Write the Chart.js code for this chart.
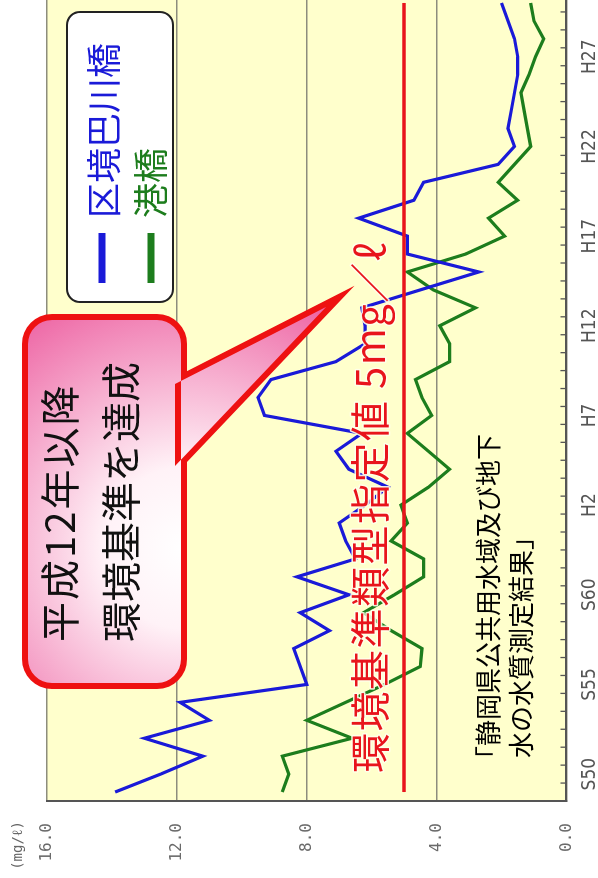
<!DOCTYPE html>
<html><head><meta charset="utf-8">
<script src="https://cdn.jsdelivr.net/npm/chart.js@4.4.1/dist/chart.umd.min.js"></script>
<style>
html,body{margin:0;padding:0;background:#fff;overflow:hidden;width:598px;height:878px;}
#wrap{position:absolute;left:0;top:0;width:900px;height:598px;transform-origin:0 0;transform:translate(0px,878px) rotate(-90deg);}
canvas{display:block;}
</style></head><body>
<div id="wrap"><canvas id="c" width="900" height="598"></canvas></div>
<script>
// Fiscal years (Showa / Heisei)
const years = ['S49','S50','S51','S52','S53','S54','S55','S56','S57','S58','S59','S60','S61','S62','S63',
  'H1','H2','H3','H4','H5','H6','H7','H8','H9','H10','H11','H12','H13','H14','H15','H16','H17','H18','H19','H20',
  'H21','H22','H23','H24','H25','H26','H27','H28','H29','H30'];
const tickLabels = ['S50','S55','S60','H2','H7','H12','H17','H22','H27'];
// BOD (mg/l)
const tomoegawa = [13.9,12.5,11.2,13.0,11.0,11.9,8.0,8.2,8.4,7.3,8.2,6.7,8.3,6.5,6.8,
  7.0,6.2,5.5,6.7,7.1,6.3,9.3,9.5,9.1,7.1,6.2,6.2,6.3,4.5,2.7,4.9,4.9,6.4,4.7,4.4,
  2.1,1.6,1.8,1.7,1.6,1.5,1.5,1.6,1.8,2.0];
const minatobashi = [8.75,8.55,8.75,6.6,8.0,6.8,5.6,4.5,4.45,5.4,6.25,5.3,4.4,4.4,5.4,
  4.9,5.1,4.25,3.6,4.25,4.9,4.15,4.45,4.65,3.6,3.6,3.9,2.8,4.1,4.9,3.1,1.9,2.4,1.5,2.1,
  1.6,1.1,1.2,1.3,1.4,1.15,0.95,0.7,1.0,1.1];
const standardValue = 5;
const seriesNames = ['区境巴川橋','港橋'];
const yMin = 0, yMax = 16, yStep = 4;

const JP = '"Noto Sans CJK JP","Noto Sans CJK SC",sans-serif';

const deco = {
  id:'deco',
  beforeDraw(chart){
    const {ctx, chartArea:a} = chart;
    ctx.save();
    ctx.fillStyle = '#ffffcc';
    ctx.fillRect(a.left, a.top, a.right-a.left, a.bottom-a.top);
    ctx.restore();
  },
  afterDatasetsDraw(chart){
    const {ctx, chartArea:a} = chart;
    const x = chart.scales.x;
    const half = (x.getPixelForValue(1) - x.getPixelForValue(0))/2;
    ctx.save();
    ctx.strokeStyle = '#555';
    ctx.lineWidth = 1.3;
    for (let i = 0; i <= years.length; i++) {
      const p = x.getPixelForValue(i) - half;
      ctx.beginPath(); ctx.moveTo(p, a.bottom); ctx.lineTo(p, a.bottom - 6); ctx.stroke();
    }
    ctx.restore();
  },
  afterDraw(chart){
    const {ctx} = chart;
    ctx.save();
    // standard value label
    ctx.font = '40px ' + JP;
    ctx.textBaseline = 'middle'; ctx.textAlign = 'left';
    ctx.lineJoin = 'round';
    ctx.letterSpacing = '1.5px';
    ctx.strokeStyle = 'rgba(255,255,235,0.9)'; ctx.lineWidth = 3;
    const std = '環境基準類型指定値 5mg／ℓ';
    ctx.strokeText(std, 105, 370);
    ctx.fillStyle = '#e8141c';
    ctx.fillText(std, 105, 370);
    ctx.letterSpacing = '0px';
    // source note
    ctx.fillStyle = '#000';
    ctx.font = '26px ' + JP;
    ctx.fillText('「静岡県公共用水域及び地下', 106, 488);
    ctx.fillText('水の水質測定結果」', 120, 521);
    // callout
    const shape = () => {
      ctx.beginPath();
      ctx.roundRect(195, 28, 363, 153, 24);
      ctx.moveTo(412, 175); ctx.lineTo(571, 326); ctx.lineTo(494, 175); ctx.closePath();
    };
    ctx.strokeStyle = '#ee1111'; ctx.lineWidth = 12; ctx.lineJoin = 'miter'; ctx.miterLimit = 10;
    shape(); ctx.stroke();
    const g = ctx.createRadialGradient(330, 185, 0, 330, 185, 270);
    g.addColorStop(0, '#ffffff'); g.addColorStop(0.3, '#fff2f7'); g.addColorStop(1, '#ee6aa7');
    ctx.fillStyle = g;
    shape(); ctx.fill();
    ctx.fillStyle = '#111';
    ctx.font = '40px ' + JP;
    ctx.letterSpacing = '2px';
    ctx.fillText('平成12年以降', 236, 60);
    ctx.letterSpacing = '0px';
    ctx.fillText('環境基準を達成', 236, 121);
    // legend
    ctx.beginPath(); ctx.roundRect(576, 67, 290, 106, 13);
    ctx.fillStyle = '#fff'; ctx.fill();
    ctx.strokeStyle = '#222'; ctx.lineWidth = 2; ctx.stroke();
    ctx.lineWidth = 7; ctx.lineCap = 'butt';
    ctx.strokeStyle = '#1a1ad8';
    ctx.beginPath(); ctx.moveTo(595, 102); ctx.lineTo(645, 102); ctx.stroke();
    ctx.strokeStyle = '#1d7d1d';
    ctx.beginPath(); ctx.moveTo(595, 151); ctx.lineTo(645, 151); ctx.stroke();
    ctx.font = '35px ' + JP;
    ctx.fillStyle = '#1a1ad8'; ctx.fillText(seriesNames[0], 660, 104);
    ctx.fillStyle = '#1d7d1d'; ctx.fillText(seriesNames[1], 660, 151);
    // unit
    ctx.font = '14px "DejaVu Sans Mono", monospace';
    ctx.fillStyle = '#666'; ctx.textAlign = 'right';
    ctx.fillText('(mg/ℓ)', 57, 18);
    ctx.restore();
  }
};

new Chart(document.getElementById('c'), {
  type: 'line',
  data: {
    labels: years,
    datasets: [
      {label: seriesNames[1], data: minatobashi, borderColor: '#1d7d1d', borderWidth: 3.2, pointRadius: 0, tension: 0, order: 3},
      {label: seriesNames[0], data: tomoegawa, borderColor: '#1a1ad8', borderWidth: 3.2, pointRadius: 0, tension: 0, order: 2},
      {label: 'std', data: [{x: years[0], y: standardValue}, {x: years[years.length-1], y: standardValue}],
        borderColor: '#e8141c', borderWidth: 3.5, pointRadius: 0, order: 1}
    ]
  },
  options: {
    responsive: false, animation: false, devicePixelRatio: 1,
    layout: {padding: {top: 47, right: 16, left: 0, bottom: 0}},
    plugins: {legend: {display: false}, tooltip: {enabled: false}},
    scales: {
      x: {
        type: 'category', offset: true,
        grid: {display: true, drawOnChartArea: false, drawTicks: false, offset: true},
        border: {display: true, color: '#555', width: 2},
        ticks: {autoSkip: false, maxRotation: 0, padding: 12, color: '#555',
          font: {family: '"Liberation Sans Narrow","DejaVu Sans Condensed",sans-serif', size: 19},
          callback: function(v, i){ const l = years[i]; return tickLabels.includes(l) ? l : ''; }},
        afterFit(s){ s.height = 31; }
      },
      y: {
        min: yMin, max: yMax,
        grid: {color: '#8d8d7d', lineWidth: 1.5, drawTicks: false},
        border: {display: true, color: '#555', width: 2},
        ticks: {stepSize: yStep, padding: 22, color: '#6a6a6a',
          font: {family: '"DejaVu Sans Mono",monospace', size: 16},
          callback: v => Number(v).toFixed(1)},
        afterFit(s){ s.width = 77; }
      }
    }
  },
  plugins: [deco]
});
</script>
</body></html>
